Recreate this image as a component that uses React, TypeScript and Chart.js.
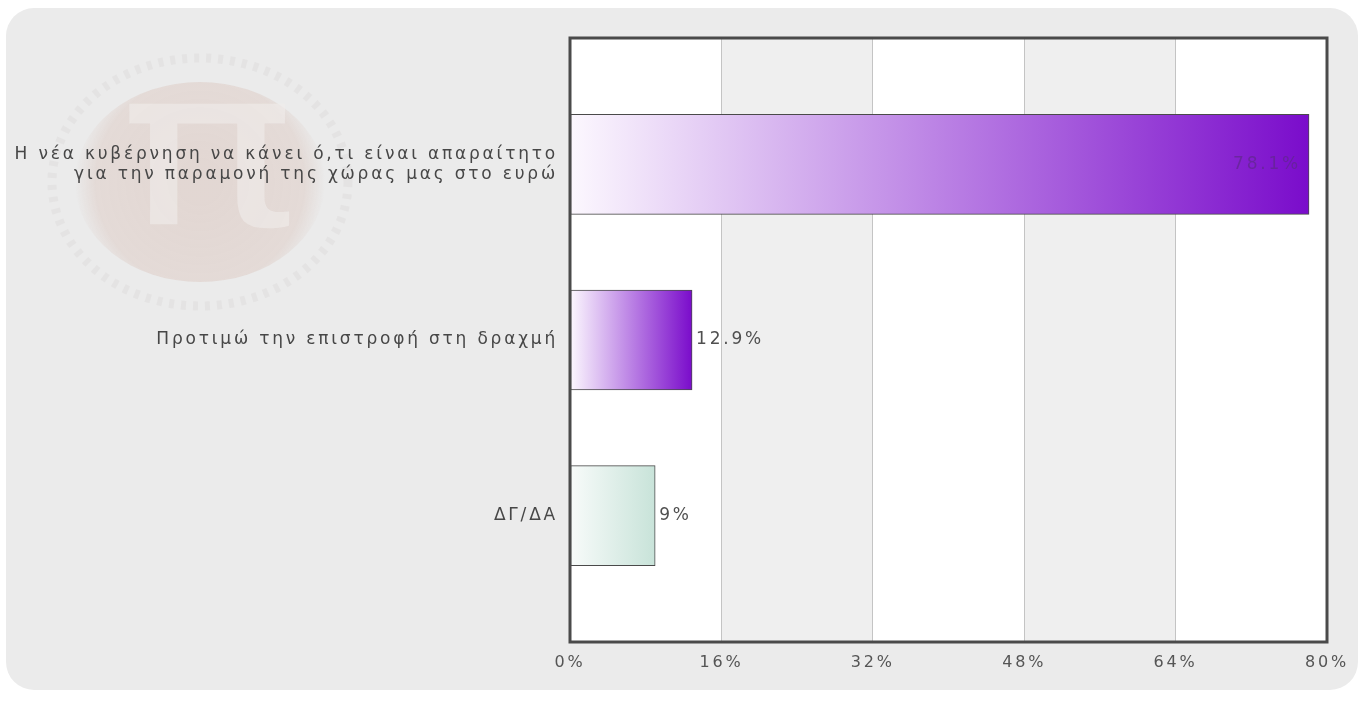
import React, { useEffect, useRef } from 'react';
import { Chart, registerables } from 'chart.js';

Chart.register(...registerables);

// ---- data ----
const categories: string[][] = [
  ['Η νέα κυβέρνηση να κάνει ό,τι είναι απαραίτητο', 'για την παραμονή της χώρας μας στο ευρώ'],
  ['Προτιμώ την επιστροφή στη δραχμή'],
  ['ΔΓ/ΔΑ'],
];
const values: number[] = [78.1, 12.9, 9];
const xMin = 0;
const xMax = 80;
const xStep = 16;

// ---- styles ----
const barGradients: [string, string][] = [
  ['#fcf8fe', '#7a0ccb'],
  ['#fcf8fe', '#7a0ccb'],
  ['#f8fbfa', '#c8e3d9'],
];
const FONT = '"DejaVu Sans", Verdana, sans-serif';
const LETTER_SPACING = '2.8px';

const fmt = (v: number) => `${v}%`;

const setSpacing = (chart: any) => {
  try {
    (chart.ctx as any).letterSpacing = LETTER_SPACING;
  } catch (e) {}
};

const decorPlugin = {
  id: 'decor',
  beforeLayout(chart: any) {
    setSpacing(chart);
  },
  beforeDraw(chart: any) {
    setSpacing(chart);
    const ctx = chart.ctx;
    const ca = chart.chartArea;
    // watermark logo
    ctx.save();
    (ctx as any).letterSpacing = '0px';
    const rg = ctx.createRadialGradient(200, 182, 20, 200, 182, 125);
    rg.addColorStop(0, 'rgba(205,165,150,0.28)');
    rg.addColorStop(0.8, 'rgba(205,165,150,0.24)');
    rg.addColorStop(1, 'rgba(205,165,150,0.0)');
    ctx.beginPath();
    ctx.ellipse(200, 182, 125, 100, 0, 0, Math.PI * 2);
    ctx.fillStyle = rg;
    ctx.fill();
    ctx.beginPath();
    ctx.ellipse(200, 182, 148, 124, 0, 0, Math.PI * 2);
    ctx.strokeStyle = 'rgba(185,180,178,0.13)';
    ctx.lineWidth = 9;
    ctx.setLineDash([5, 7]);
    ctx.stroke();
    ctx.setLineDash([]);
    ctx.translate(208, 167);
    ctx.scale(1.35, 1);
    ctx.font = '220px "DejaVu Sans", sans-serif';
    ctx.fillStyle = 'rgba(240,237,235,0.6)';
    ctx.textAlign = 'center';
    ctx.textBaseline = 'middle';
    ctx.fillText('π', 0, 0);
    ctx.restore();
    // plot bands
    const x = chart.scales.x;
    ctx.save();
    ctx.fillStyle = '#ffffff';
    ctx.fillRect(ca.left, ca.top, ca.right - ca.left, ca.bottom - ca.top);
    ctx.fillStyle = '#efefef';
    for (let v = xMin, k = 0; v < xMax; v += xStep, k++) {
      if (k % 2 === 1) {
        const a = x.getPixelForValue(v);
        const b = x.getPixelForValue(v + xStep);
        ctx.fillRect(a, ca.top, b - a, ca.bottom - ca.top);
      }
    }
    ctx.restore();
  },
  afterDatasetsDraw(chart: any) {
    const ctx = chart.ctx;
    const meta = chart.getDatasetMeta(0);
    const ca = chart.chartArea;
    ctx.save();
    setSpacing(chart);
    ctx.font = `17px ${FONT}`;
    ctx.textBaseline = 'middle';
    meta.data.forEach((bar: any, i: number) => {
      const txt = fmt(values[i]);
      const w = ctx.measureText(txt).width;
      if (bar.x + 6 + w > ca.right) {
        ctx.textAlign = 'right';
        ctx.fillStyle = 'rgba(95,40,140,0.7)';
        ctx.fillText(txt, bar.x - 8, bar.y);
      } else {
        ctx.textAlign = 'left';
        ctx.fillStyle = '#505050';
        ctx.fillText(txt, bar.x + 4, bar.y);
      }
    });
    ctx.restore();
  },
  afterDraw(chart: any) {
    const ctx = chart.ctx;
    const ca = chart.chartArea;
    ctx.save();
    ctx.strokeStyle = '#4a4a4a';
    ctx.lineWidth = 3;
    ctx.strokeRect(ca.left, ca.top, ca.right - ca.left, ca.bottom - ca.top);
    ctx.restore();
  },
};

export default function App() {
  const ref = useRef<HTMLCanvasElement>(null);

  useEffect(() => {
    document.body.style.margin = '0';
    const canvas = ref.current;
    if (!canvas) return;
    const chart = new Chart(canvas, {
      type: 'bar',
      data: {
        datasets: [
          {
            data: values.map((v, i) => ({ x: v, y: i })),
            barThickness: 100,
            borderWidth: 1,
            borderSkipped: false,
            borderColor: '#4a4a4a',
            backgroundColor: (c: any) => {
              const ch = c.chart;
              const i = c.dataIndex;
              const xs = ch.scales && ch.scales.x;
              if (!ch.chartArea || !xs || i === undefined) return barGradients[0][1];
              const a = xs.getPixelForValue(0);
              const b = xs.getPixelForValue(values[i]);
              const g = ch.ctx.createLinearGradient(a, 0, b, 0);
              g.addColorStop(0, barGradients[i][0]);
              g.addColorStop(1, barGradients[i][1]);
              return g;
            },
          } as any,
        ],
      },
      options: {
        indexAxis: 'y',
        animation: false,
        responsive: false,
        layout: { padding: { left: 0, top: 38, right: 37, bottom: 0 } },
        plugins: {
          legend: { display: false },
          tooltip: { enabled: false },
        },
        scales: {
          x: {
            type: 'linear',
            position: 'bottom',
            min: xMin,
            max: xMax,
            offset: false,
            border: { display: false },
            grid: { color: '#c4c4c4', lineWidth: 1, drawTicks: false },
            ticks: {
              stepSize: xStep,
              padding: 11,
              color: '#555555',
              font: { family: FONT, size: 16 },
              callback: (v: any) => `${v}%`,
            },
            afterFit: (s: any) => {
              s.height = 60;
            },
          },
          y: {
            type: 'linear',
            reverse: true,
            offset: false,
            min: -0.72,
            max: 2.72,
            border: { display: false },
            grid: { display: false, drawTicks: false },
            afterBuildTicks: (s: any) => {
              s.ticks = categories.map((_, i) => ({ value: i }));
            },
            ticks: {
              autoSkip: false,
              padding: 12,
              color: '#474747',
              font: { family: FONT, size: 17, lineHeight: 1.2 },
              callback: (v: any) => categories[v] ?? '',
            },
            afterFit: (s: any) => {
              s.width = 570;
            },
          },
        },
      } as any,
      plugins: [decorPlugin],
    });
    return () => chart.destroy();
  }, []);

  return (
    <div style={{ position: 'relative', width: 1364, height: 702, background: '#ffffff' }}>
      <div
        style={{
          position: 'absolute',
          left: 6,
          top: 8,
          width: 1352,
          height: 682,
          background: '#ebebeb',
          borderRadius: 28,
        }}
      />
      <canvas
        ref={ref}
        width={1364}
        height={702}
        style={{ position: 'absolute', left: 0, top: 0, width: 1364, height: 702 }}
      />
    </div>
  );
}
